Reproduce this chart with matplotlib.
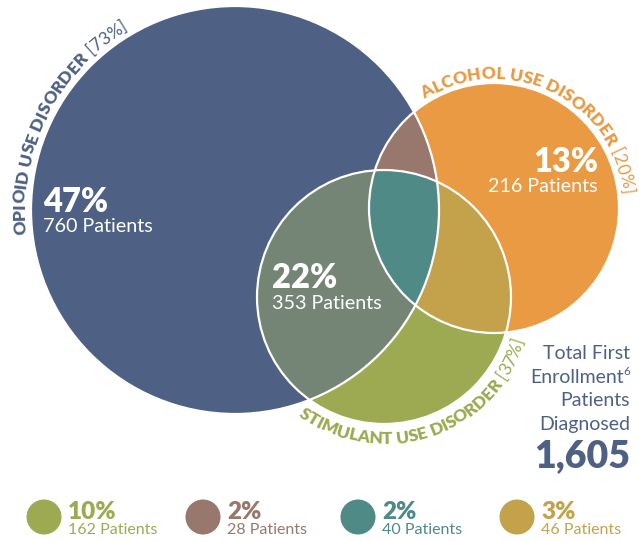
import numpy as np
import matplotlib
matplotlib.use('Agg')
import matplotlib.pyplot as plt
from matplotlib.patches import Circle, Polygon
from matplotlib.font_manager import FontProperties, findfont, get_font

plt.rcParams['font.family'] = ['Lato', 'DejaVu Sans']

# ---- data ----
set_names = ['OPIOID USE DISORDER', 'ALCOHOL USE DISORDER', 'STIMULANT USE DISORDER']
set_share = ['[73%]', '[20%]', '[37%]']
inner_pct = ['47%', '13%', '22%']          # opioid only, alcohol only, opioid+stimulant
inner_n = [760, 216, 353]
legend_pct = ['10%', '2%', '2%', '3%']     # stimulant only, opioid+alcohol, all three, alcohol+stimulant
legend_n = [162, 28, 40, 46]
total_lines = ['Total First', 'Enrollment', 'Patients', 'Diagnosed']
total_n = 1605

# ---- colours ----
BLUE = '#4e6185'
ORANGE = '#e99a42'
GREEN = '#9eaa52'
BROWN = '#98786c'
GREY = '#758575'
TEAL = '#4f8a87'
GOLD = '#c4a24b'

# circles in pixel coords (y down): cx, cy, r
OPI = (235, 210, 204)
ALC = (494, 208, 125)
STI = (384, 297, 127)

DPI = 100
fig = plt.figure(figsize=(6.39, 5.42), dpi=DPI)
ax = fig.add_axes([0, 0, 1, 1])
ax.set_xlim(0, 639)
ax.set_ylim(542, 0)
ax.set_aspect('equal')
ax.axis('off')


def meet(circles, n=1440):
    # convex intersection of circles as a polygon
    pts = []
    for i, (cx, cy, r) in enumerate(circles):
        t = np.linspace(0, 2 * np.pi, n, endpoint=False)
        p = np.c_[cx + r * np.cos(t), cy + r * np.sin(t)]
        ok = np.ones(n, bool)
        for j, (ox, oy, orr) in enumerate(circles):
            if j != i:
                ok &= np.hypot(p[:, 0] - ox, p[:, 1] - oy) <= orr
        pts.append(p[ok])
    pts = np.vstack(pts)
    c = pts.mean(axis=0)
    order = np.argsort(np.arctan2(pts[:, 1] - c[1], pts[:, 0] - c[0]))
    return pts[order]


for c, col in [(OPI, BLUE), (ALC, ORANGE), (STI, GREEN)]:
    ax.add_patch(Circle(c[:2], c[2], fc=col, ec='none'))
for cs, col in [((OPI, ALC), BROWN), ((OPI, STI), GREY), ((ALC, STI), GOLD), ((OPI, ALC, STI), TEAL)]:
    ax.add_patch(Polygon(meet(cs), closed=True, fc=col, ec='none'))
for c in [OPI, ALC, STI]:
    ax.add_patch(Circle(c[:2], c[2], fill=False, ec='white', lw=1.6))


def adv(ch, fp):
    # true glyph advance in pixels
    font = get_font(findfont(fp))
    font.set_size(fp.get_size_in_points(), DPI)
    g = font.load_char(ord(ch))
    return g.linearHoriAdvance / 65536


def arc_text(parts, circ, R, start, d, color, size):
    cx, cy, _ = circ
    s = np.radians(start)
    pos = 0.0
    for txt, weight in parts:
        fp = FontProperties(family=['Lato', 'DejaVu Sans'], weight=weight, size=size)
        for ch in txt:
            w = adv(ch, fp)
            phi = s + d * (pos + w / 2) / R
            x = cx + R * np.cos(phi)
            y = cy + R * np.sin(phi)
            rot = np.degrees(np.arctan2(-d * np.cos(phi), -d * np.sin(phi)))
            ax.text(x, y, ch, fontproperties=fp, color=color, rotation=rot,
                    rotation_mode='anchor', ha='center', va='baseline')
            pos += w


arc_text([(set_names[0], 'heavy'), (' ' + set_share[0], 'normal')], OPI, 210, 173.5, 1, BLUE, 12.5)
arc_text([(set_names[1], 'heavy'), (' ' + set_share[1], 'normal')], ALC, 129, 237.5, 1, ORANGE, 12.5)
arc_text([(set_names[2], 'heavy'), (' ' + set_share[2], 'normal')], STI, 147, 126, -1, GREEN, 12.5)

# inner labels
ax.text(43, 212, inner_pct[0], color='white', fontsize=23.5, fontweight='heavy', va='baseline')
ax.text(43, 232, f'{inner_n[0]} Patients', color='white', fontsize=14.2, va='baseline')
ax.text(598, 172, inner_pct[1], color='white', fontsize=23.5, fontweight='heavy', va='baseline', ha='right')
ax.text(598, 192, f'{inner_n[1]} Patients', color='white', fontsize=14.2, va='baseline', ha='right')
ax.text(272, 288, inner_pct[2], color='white', fontsize=23.5, fontweight='heavy', va='baseline')
ax.text(272, 309, f'{inner_n[2]} Patients', color='white', fontsize=14.2, va='baseline')

# total block
for i, line in enumerate(total_lines):
    xr = 624 if line == 'Enrollment' else 630
    ax.text(xr, 359 + i * 23.7, line, color=BLUE, fontsize=14, ha='right', va='baseline')
ax.text(623.5, 375, '6', color=BLUE, fontsize=8.5, ha='left', va='baseline')
ax.text(630, 467, f'{total_n:,}', color=BLUE, fontsize=27, fontweight='heavy', ha='right', va='baseline')

# legend
leg_x = [44, 203, 358, 517]
for x, col, p, n in zip(leg_x, [GREEN, BROWN, TEAL, GOLD], legend_pct, legend_n):
    ax.add_patch(Circle((x, 517), 17.5, fc=col, ec='none'))
    ax.text(x + 24, 519, p, color=col, fontsize=17.5, fontweight='heavy', va='baseline')
    ax.text(x + 24, 534, f'{n} Patients', color=col, fontsize=11.5, va='baseline')

fig.savefig('out.png', dpi=DPI)
